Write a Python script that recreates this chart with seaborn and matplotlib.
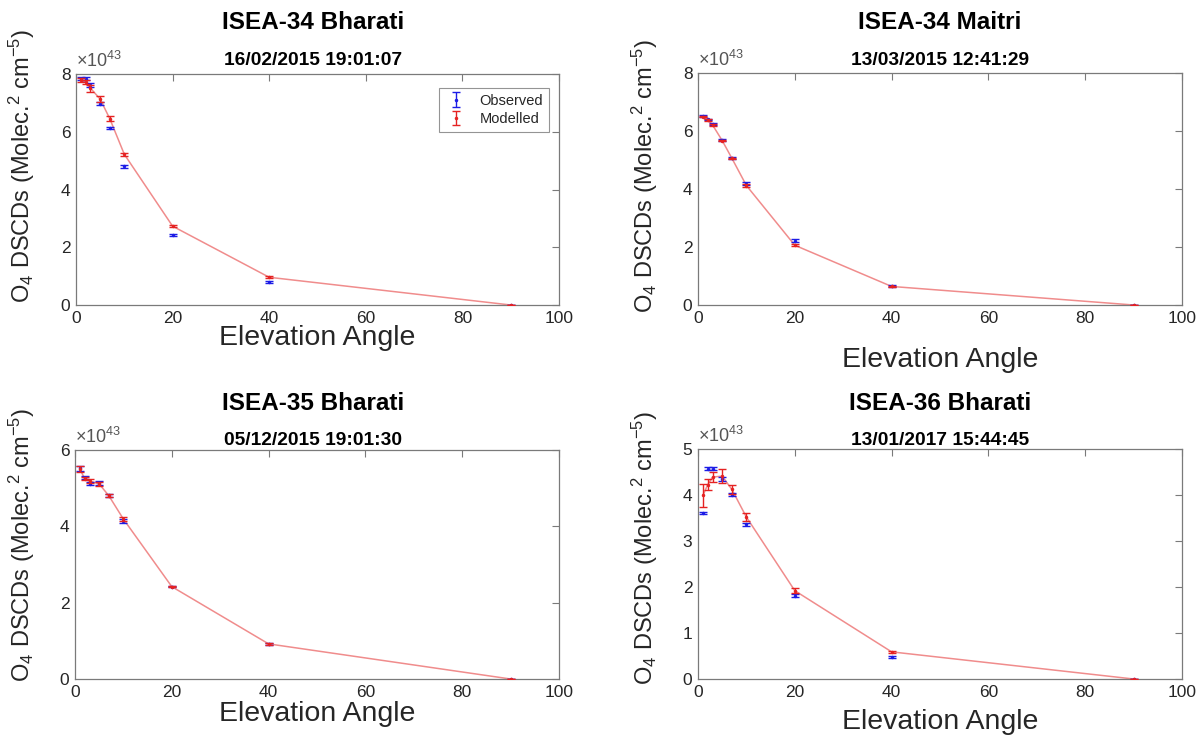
import numpy as np
import pandas as pd
import matplotlib
matplotlib.use("Agg")
import matplotlib.pyplot as plt
import seaborn as sns

# Elevation angles of the MAX-DOAS scan (degrees)
elevation = [1, 2, 3, 5, 7, 10, 20, 40, 90]

titles = ["ISEA-34 Bharati", "ISEA-34 Maitri", "ISEA-35 Bharati", "ISEA-36 Bharati"]
timestamps = ["16/02/2015 19:01:07", "13/03/2015 12:41:29",
              "05/12/2015 19:01:30", "13/01/2017 15:44:45"]

# O4 DSCDs in units of 1e43 molec^2 cm^-5
obs_b34 = [7.83, 7.83, 7.62, 6.97, 6.12, 4.80, 2.42, 0.79, 0.0]
obs_err_b34 = [0.05, 0.05, 0.06, 0.05, 0.04, 0.04, 0.04, 0.04, 0.0]
mod_b34 = [7.78, 7.71, 7.51, 7.13, 6.45, 5.22, 2.73, 0.96, 0.0]
mod_err_b34 = [0.07, 0.07, 0.12, 0.10, 0.09, 0.06, 0.04, 0.03, 0.0]

obs_m34 = [6.52, 6.40, 6.23, 5.69, 5.07, 4.18, 2.22, 0.66, 0.0]
obs_err_m34 = [0.03, 0.03, 0.03, 0.03, 0.02, 0.05, 0.04, 0.04, 0.0]
mod_m34 = [6.50, 6.38, 6.21, 5.67, 5.06, 4.12, 2.06, 0.64, 0.0]
mod_err_m34 = [0.03, 0.03, 0.03, 0.03, 0.02, 0.04, 0.03, 0.03, 0.0]

obs_b35 = [5.52, 5.27, 5.12, 5.13, 4.81, 4.14, 2.42, 0.92, 0.0]
obs_err_b35 = [0.06, 0.04, 0.05, 0.05, 0.04, 0.06, 0.02, 0.02, 0.0]
mod_b35 = [5.50, 5.25, 5.19, 5.11, 4.80, 4.19, 2.42, 0.92, 0.0]
mod_err_b35 = [0.07, 0.04, 0.05, 0.05, 0.04, 0.05, 0.02, 0.02, 0.0]

obs_b36 = [3.61, 4.57, 4.57, 4.35, 4.01, 3.36, 1.81, 0.48, 0.0]
obs_err_b36 = [0.03, 0.03, 0.03, 0.04, 0.03, 0.03, 0.03, 0.03, 0.0]
mod_b36 = [3.99, 4.22, 4.39, 4.41, 4.12, 3.52, 1.92, 0.59, 0.0]
mod_err_b36 = [0.24, 0.12, 0.10, 0.15, 0.10, 0.08, 0.05, 0.02, 0.0]

observed = [obs_b34, obs_m34, obs_b35, obs_b36]
observed_err = [obs_err_b34, obs_err_m34, obs_err_b35, obs_err_b36]
modelled = [mod_b34, mod_m34, mod_b35, mod_b36]
modelled_err = [mod_err_b34, mod_err_m34, mod_err_b35, mod_err_b36]

y_max = [8, 8, 6, 5]
y_step = [2, 2, 2, 1]
x_ticks = [0, 20, 40, 60, 80, 100]

sns.set_theme(style="white")
plt.rcParams["font.family"] = ["Liberation Sans", "DejaVu Sans"]
plt.rcParams["mathtext.fontset"] = "custom"
plt.rcParams["mathtext.rm"] = "Liberation Sans"
plt.rcParams["mathtext.it"] = "Liberation Sans:italic"

W, H = 1200, 742
fig = plt.figure(figsize=(W / 100, H / 100), dpi=100)
fig.patch.set_facecolor("white")

# axes boxes in pixels: left, top, right, bottom
boxes = [(76, 74, 559, 305), (698, 73, 1182, 305),
         (75, 450, 559, 679), (698, 449, 1182, 679)]
title_x = [313, 940, 313, 940]
title_base = [29, 29, 410, 410]
date_base = [65, 65, 445, 445]
xlabel_base = [345, 367, 721, 729]
ylabel_x = [22, 645, 22, 645]
ylabel_y = [166, 176, 545, 548]

BLUE = "#1c1ce6"
RED = "#e52222"
LINE = "#f08c8c"
SPINE = "#7a7a7a"
TEXT = "#262626"

ylabel = r"O$_4$ DSCDs (Molec.$^2$ cm$^{-5}$)"


def fx(px):
    return px / W


def fy(py):
    return 1 - py / H


for i in range(4):
    l, t, r, b = boxes[i]
    ax = fig.add_axes([fx(l), fy(b), (r - l) / W, (b - t) / H])

    df = pd.DataFrame({"elevation": elevation,
                       "observed": observed[i],
                       "modelled": modelled[i]})

    sns.lineplot(data=df, x="elevation", y="modelled", ax=ax,
                 color=LINE, lw=1.1, zorder=1)
    h_obs = ax.errorbar(df["elevation"], df["observed"], yerr=observed_err[i],
                        fmt=".", ms=3, color=BLUE, ecolor=BLUE, elinewidth=1.0,
                        capsize=3, capthick=1.0, zorder=2, label="Observed")
    h_mod = ax.errorbar(df["elevation"], df["modelled"], yerr=modelled_err[i],
                        fmt=".", ms=3, color=RED, ecolor=RED, elinewidth=1.0,
                        capsize=3, capthick=1.0, zorder=3, label="Modelled")

    ax.set_xlim(0, 100)
    ax.set_ylim(0, y_max[i])
    ax.set_xticks(x_ticks)
    ax.set_yticks(np.arange(0, y_max[i] + 0.01, y_step[i]))
    ax.set_xlabel("")
    ax.set_ylabel("")
    ax.tick_params(direction="in", top=True, right=True, length=5, width=0.8,
                   color=SPINE, labelsize=12.5, labelcolor=TEXT, pad=4)
    ax.set_xticklabels([str(v) for v in x_ticks])
    ax.set_yticklabels([str(int(v)) for v in ax.get_yticks()])
    for s in ax.spines.values():
        s.set_color(SPINE)
        s.set_linewidth(0.9)

    ax.text(0.0, 1.015, r"$\times$10$^{43}$", transform=ax.transAxes,
            ha="left", va="bottom", fontsize=13, color="#555555")

    fig.text(fx(title_x[i]), fy(title_base[i]), titles[i], ha="center",
             va="baseline", fontsize=17.5, fontweight="bold", color="black")
    fig.text(fx(title_x[i]), fy(date_base[i]), timestamps[i], ha="center",
             va="baseline", fontsize=13.8, fontweight="bold", color="black")
    fig.text(fx((l + r) / 2), fy(xlabel_base[i]), "Elevation Angle",
             ha="center", va="baseline", fontsize=20.5, color=TEXT)
    fig.text(fx(ylabel_x[i]), fy(ylabel_y[i]), ylabel, rotation=90,
             ha="center", va="center", fontsize=17, color=TEXT)

    if i == 0:
        leg = ax.legend(handles=[h_obs, h_mod], labels=["Observed", "Modelled"],
                        loc="upper right", bbox_to_anchor=(0.979, 0.94),
                        borderaxespad=0.0, fontsize=10.5, frameon=True,
                        fancybox=False, handlelength=1.6, handletextpad=0.8,
                        borderpad=0.4, labelspacing=0.3)
        leg.get_frame().set_edgecolor(SPINE)
        leg.get_frame().set_linewidth(0.8)

fig.savefig("out.png", dpi=100, facecolor="white")
